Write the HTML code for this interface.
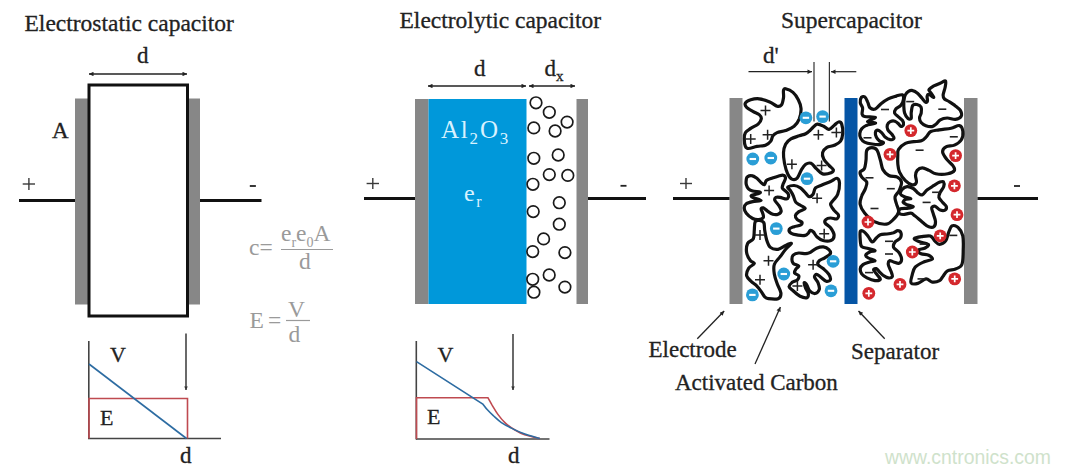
<!DOCTYPE html>
<html><head><meta charset="utf-8">
<style>
html,body{margin:0;padding:0;background:#fff;width:1069px;height:473px;overflow:hidden}
svg{display:block}
text{font-family:"Liberation Serif",serif}
.dk text, text.dk{stroke:#222;stroke-width:0.3}
</style></head><body>
<svg width="1069" height="473" viewBox="0 0 1069 473">
<defs>
<marker id="ah" viewBox="0 0 10 10" refX="10" refY="5" markerWidth="7" markerHeight="4.5" orient="auto-start-reverse" markerUnits="userSpaceOnUse"><path d="M0,0 L10,5 L0,10 z" fill="#222"/></marker>
<marker id="av" viewBox="0 0 10 10" refX="10" refY="5" markerWidth="7" markerHeight="3.6" orient="auto" markerUnits="userSpaceOnUse"><path d="M0,0 L10,5 L0,10 z" fill="#333"/></marker>
</defs>
<rect width="1069" height="473" fill="#fff"/>
<g fill="#222" font-size="23.5" class="dk">
<text x="24.5" y="31.2">Electrostatic capacitor</text>
<text x="399.5" y="27.8">Electrolytic capacitor</text>
<text x="781" y="27.6">Supercapacitor</text>
</g>

<!-- ===== Section 1 ===== -->
<rect x="75" y="98.5" width="13" height="206" fill="#878787"/>
<rect x="189" y="98.5" width="11" height="206" fill="#878787"/>
<rect x="89" y="85" width="98.5" height="231" fill="none" stroke="#111" stroke-width="3"/>
<line x1="19" y1="200.5" x2="75" y2="200.5" stroke="#111" stroke-width="3"/>
<line x1="200" y1="200.5" x2="261.5" y2="200.5" stroke="#111" stroke-width="3"/>
<line x1="89" y1="74" x2="187" y2="74" stroke="#222" stroke-width="1.3" marker-start="url(#ah)" marker-end="url(#ah)"/>
<text x="137" y="63" font-size="23" fill="#222" class="dk">d</text>
<text x="52" y="137.5" font-size="23" fill="#222" class="dk">A</text>
<g stroke="#3a3a3a" stroke-width="1.4"><line x1="22.7" y1="184" x2="35" y2="184"/><line x1="28.9" y1="178" x2="28.9" y2="190"/></g>
<line x1="249.8" y1="186" x2="255.8" y2="186" stroke="#222" stroke-width="1.8"/>

<!-- formulas -->
<g fill="#9a9a9a" font-size="23.5">
<text x="249" y="254.5">c=</text>
<text x="281" y="240.5">e<tspan font-size="14" dy="6">r</tspan><tspan dy="-6">e</tspan><tspan font-size="14" dy="6">0</tspan><tspan dy="-6">A</tspan></text>
<text x="299" y="269">d</text>
<text x="249.5" y="328">E</text>
<text x="268" y="328">=</text>
<text x="288" y="316.5">V</text>
<text x="288.5" y="342">d</text>
</g>
<line x1="281" y1="249.5" x2="333" y2="249.5" stroke="#9a9a9a" stroke-width="1.2"/>
<line x1="286" y1="320.5" x2="310" y2="320.5" stroke="#9a9a9a" stroke-width="1.2"/>

<!-- graph 1 -->
<line x1="88.8" y1="341" x2="88.8" y2="439" stroke="#444" stroke-width="1.6"/>
<line x1="88" y1="438.5" x2="221" y2="438.5" stroke="#444" stroke-width="1.6"/>
<polyline points="89,438.5 89,398.5 187.5,398.5 187.5,438.5" fill="none" stroke="#bf4a50" stroke-width="1.6"/>
<line x1="89" y1="364" x2="186.5" y2="438.5" stroke="#2d6ca2" stroke-width="1.6"/>
<line x1="186" y1="333.5" x2="186" y2="390" stroke="#444" stroke-width="1.6" marker-end="url(#av)"/>
<text x="110" y="361.5" font-size="22" fill="#222" class="dk">V</text>
<text x="100" y="424.5" font-size="22" fill="#222" class="dk">E</text>
<text x="180" y="463" font-size="23" fill="#222" class="dk">d</text>

<!-- ===== Section 2 ===== -->
<rect x="415" y="99" width="13.5" height="205" fill="#878787"/>
<rect x="428.5" y="99" width="98" height="205" fill="#0098da"/>
<rect x="576.5" y="99" width="11.5" height="205" fill="#878787"/>
<line x1="364" y1="198.5" x2="415" y2="198.5" stroke="#111" stroke-width="3"/>
<line x1="588" y1="198.5" x2="646" y2="198.5" stroke="#111" stroke-width="3"/>
<line x1="428" y1="86" x2="526" y2="86" stroke="#222" stroke-width="1.3" marker-start="url(#ah)" marker-end="url(#ah)"/>
<line x1="529" y1="86" x2="575" y2="86" stroke="#222" stroke-width="1.3" marker-start="url(#ah)" marker-end="url(#ah)"/>
<text x="474" y="75.5" font-size="23" fill="#222" class="dk">d</text>
<text x="544.5" y="75.5" font-size="23" fill="#222" class="dk">d<tspan font-size="15" dy="5">x</tspan></text>
<g stroke="#3a3a3a" stroke-width="1.4"><line x1="366.6" y1="183.5" x2="379" y2="183.5"/><line x1="372.8" y1="178" x2="372.8" y2="189"/></g>
<line x1="620.5" y1="185.8" x2="626.5" y2="185.8" stroke="#222" stroke-width="1.8"/>
<g fill="#d8f2ff" font-size="25">
<text x="441" y="138" letter-spacing="1.8">Al<tspan font-size="17" dy="6">2</tspan><tspan dy="-6">O</tspan><tspan font-size="17" dy="6">3</tspan></text>
<text x="464" y="200.5" font-size="24">e<tspan font-size="16" dy="6" dx="1.5">r</tspan></text>
</g>
<g fill="none" stroke="#1a1a1a" stroke-width="1.7" id="circles">
<circle cx="536" cy="102.8" r="5.8"/>
<circle cx="549.3" cy="112.3" r="5.8"/>
<circle cx="567.1" cy="122.1" r="5.8"/>
<circle cx="533.8" cy="127.9" r="5.8"/>
<circle cx="555.1" cy="131" r="5.8"/>
<circle cx="533.8" cy="158.3" r="5.8"/>
<circle cx="558.2" cy="155" r="5.8"/>
<circle cx="549.3" cy="174.6" r="5.8"/>
<circle cx="567.8" cy="175.4" r="5.8"/>
<circle cx="532.9" cy="184.3" r="5.8"/>
<circle cx="559.3" cy="202.7" r="5.8"/>
<circle cx="533.2" cy="211.6" r="5.8"/>
<circle cx="559.3" cy="224.2" r="5.8"/>
<circle cx="543.6" cy="238.9" r="5.8"/>
<circle cx="532.7" cy="251.6" r="5.8"/>
<circle cx="564.9" cy="252.6" r="5.8"/>
<circle cx="549.2" cy="275" r="5.8"/>
<circle cx="532.7" cy="279.3" r="5.8"/>
<circle cx="564.9" cy="287.1" r="5.8"/>
<circle cx="533.9" cy="292.2" r="5.8"/>
</g>

<!-- graph 2 -->
<line x1="416.3" y1="341" x2="416.3" y2="439.5" stroke="#444" stroke-width="1.6"/>
<line x1="416" y1="439" x2="549.5" y2="439" stroke="#444" stroke-width="1.6"/>
<path d="M416.5,439 L416.5,397.8 L488,397.8 C488.7,399.0 490.5,402.3 492.1,405.1 C493.8,407.9 495.8,411.5 497.9,414.4 C500.0,417.3 502.2,420.1 504.9,422.6 C507.6,425.1 510.9,427.5 514.2,429.5 C517.5,431.5 520.4,433.3 524.7,434.8 C529.0,436.3 537.3,437.9 539.8,438.5" fill="none" stroke="#bf4a50" stroke-width="1.6"/>
<path d="M416.5,361.7 L482.8,404 C483.6,405.0 485.6,407.9 487.4,409.8 C489.1,411.7 491.0,413.5 493.3,415.6 C495.6,417.7 498.3,420.5 501.4,422.6 C504.5,424.7 508.2,426.6 511.9,428.4 C515.6,430.2 518.9,431.9 523.5,433.6 C528.1,435.3 537.1,437.7 539.8,438.5" fill="none" stroke="#2d6ca2" stroke-width="1.6"/>
<line x1="513" y1="334" x2="513" y2="390" stroke="#444" stroke-width="1.6" marker-end="url(#av)"/>
<text x="437.5" y="362" font-size="22" fill="#222" class="dk">V</text>
<text x="427" y="423.5" font-size="22" fill="#222" class="dk">E</text>
<text x="508" y="462.5" font-size="23" fill="#222" class="dk">d</text>

<!-- ===== Section 3 ===== -->
<rect x="729.5" y="98" width="13" height="206" fill="#878787"/>
<rect x="844.5" y="98" width="13" height="206" fill="#0555a5"/>
<rect x="964" y="98" width="13.5" height="206" fill="#878787"/>
<line x1="673" y1="198.5" x2="729.5" y2="198.5" stroke="#111" stroke-width="3"/>
<line x1="977.5" y1="198.5" x2="1038" y2="198.5" stroke="#111" stroke-width="3"/>
<g stroke="#3a3a3a" stroke-width="1.4"><line x1="680" y1="183.5" x2="692" y2="183.5"/><line x1="686" y1="178" x2="686" y2="189"/></g>
<line x1="1014" y1="186" x2="1020" y2="186" stroke="#222" stroke-width="1.8"/>
<text x="763" y="63.2" font-size="23" fill="#222" class="dk">d'</text>
<line x1="748.5" y1="71.7" x2="812" y2="71.7" stroke="#222" stroke-width="1.2" marker-end="url(#ah)"/>
<line x1="856.3" y1="71.7" x2="831" y2="71.7" stroke="#222" stroke-width="1.2" marker-end="url(#ah)"/>
<line x1="814" y1="62" x2="814" y2="121.5" stroke="#333" stroke-width="1.2"/>
<line x1="829.4" y1="62" x2="829.4" y2="121.5" stroke="#333" stroke-width="1.2"/>

<g fill="none" stroke="#111" stroke-width="3.2" stroke-linejoin="round">
<path d="M785.6,88.8 C787.2,89.2 790.9,90.6 793.0,92.4 C795.1,94.2 797.0,97.2 798.3,99.8 C799.6,102.4 800.8,105.1 801.0,108.3 C801.2,111.5 800.4,115.8 799.3,118.8 C798.1,121.8 796.4,124.3 794.1,126.3 C791.8,128.2 788.4,129.4 785.6,130.5 C782.8,131.6 779.2,131.7 777.1,132.6 C775.0,133.5 774.0,134.4 772.9,135.8 C771.8,137.2 772.0,139.5 770.8,141.1 C769.6,142.7 767.8,144.4 765.5,145.3 C763.2,146.2 759.8,145.8 757.0,146.3 C754.2,146.8 750.5,148.5 748.6,148.5 C746.7,148.5 746.1,147.9 745.4,146.3 C744.7,144.7 744.3,141.2 744.3,138.9 C744.3,136.6 744.3,134.3 745.4,132.6 C746.5,130.8 748.6,129.8 750.7,128.4 C752.8,127.0 756.3,125.7 758.1,124.1 C759.9,122.5 761.1,120.4 761.3,118.8 C761.5,117.2 760.6,115.8 759.2,114.6 C757.8,113.4 754.9,112.6 752.8,111.4 C750.7,110.2 747.7,108.6 746.5,107.2 C745.3,105.8 744.7,104.2 745.4,103.0 C746.1,101.8 748.4,100.5 750.7,99.8 C753.0,99.1 756.0,98.4 759.2,98.8 C762.4,99.2 766.7,100.7 769.7,101.9 C772.7,103.1 775.2,105.7 777.1,106.2 C779.0,106.7 780.3,106.5 781.4,105.1 C782.5,103.7 783.1,100.2 783.5,97.7 C783.9,95.2 783.1,91.8 783.5,90.3 C783.9,88.8 784.0,88.4 785.6,88.8Z"/>
<path d="M813.1,127.3 C814.3,126.2 815.5,124.3 817.3,124.1 C819.1,123.9 821.8,125.4 823.7,126.3 C825.7,127.2 827.2,129.6 829.0,129.4 C830.8,129.2 832.7,126.4 834.3,125.2 C835.9,124.0 837.3,122.2 838.5,122.0 C839.7,121.8 841.0,122.1 841.7,124.1 C842.4,126.0 842.9,130.9 842.7,133.7 C842.5,136.5 842.0,139.2 840.6,141.1 C839.2,143.0 836.6,144.2 834.3,145.3 C832.0,146.4 828.8,146.2 826.9,147.4 C825.0,148.6 823.1,150.8 822.6,152.7 C822.1,154.6 822.6,156.9 823.7,159.0 C824.8,161.1 827.4,163.6 829.0,165.4 C830.6,167.2 832.9,168.4 833.2,169.6 C833.6,170.8 832.9,172.1 831.1,172.8 C829.3,173.5 825.1,174.6 822.6,173.9 C820.1,173.2 818.2,170.4 816.3,168.6 C814.4,166.8 812.8,164.0 811.0,163.3 C809.2,162.6 807.3,163.2 805.7,164.3 C804.1,165.4 802.9,167.3 801.5,169.6 C800.1,171.9 798.8,176.5 797.2,178.1 C795.6,179.7 793.5,179.8 791.9,179.1 C790.3,178.4 788.9,176.5 787.7,173.9 C786.5,171.3 785.2,166.8 784.5,163.3 C783.8,159.8 783.3,155.9 783.5,152.7 C783.7,149.5 784.4,146.5 785.6,144.2 C786.8,141.9 788.6,140.3 790.9,138.9 C793.2,137.5 796.8,136.7 799.3,135.8 C801.8,134.9 803.9,134.6 805.7,133.7 C807.5,132.8 808.7,131.6 809.9,130.5 C811.1,129.4 811.9,128.4 813.1,127.3Z"/>
<path d="M747.4,176.8 C748.3,176.2 750.0,175.4 751.6,175.7 C753.2,175.9 755.3,177.2 756.9,178.3 C758.5,179.5 759.9,181.5 761.1,182.6 C762.3,183.7 763.4,185.0 764.3,184.7 C765.2,184.3 765.2,181.6 766.4,180.5 C767.6,179.4 769.8,179.0 771.7,178.3 C773.7,177.6 776.2,176.7 778.1,176.2 C780.0,175.7 782.1,174.8 783.3,175.2 C784.5,175.5 785.5,176.9 785.5,178.3 C785.5,179.7 783.8,182.0 783.3,183.6 C782.8,185.2 781.9,186.7 782.3,187.9 C782.7,189.1 784.5,190.1 785.5,191.0 C786.5,191.9 787.5,192.5 788.0,193.5 C788.5,194.5 788.8,196.1 788.5,197.0 C788.2,197.9 787.9,198.9 786.5,199.0 C785.1,199.1 782.0,197.7 780.2,197.4 C778.4,197.1 776.8,196.9 775.9,197.4 C775.0,197.9 774.4,199.1 774.9,200.5 C775.4,201.9 778.0,204.0 779.1,205.8 C780.2,207.6 781.4,209.7 781.2,211.1 C781.0,212.5 779.5,213.8 778.1,214.3 C776.7,214.8 774.6,214.8 772.8,214.3 C771.0,213.8 769.1,212.2 767.5,211.1 C765.9,210.0 764.4,208.2 763.3,207.9 C762.2,207.6 761.2,208.1 761.1,209.0 C761.0,209.9 762.3,211.8 762.7,213.2 C763.1,214.6 763.9,216.4 763.3,217.5 C762.7,218.6 760.8,219.4 759.0,219.6 C757.2,219.8 754.8,219.6 752.7,218.5 C750.6,217.4 747.7,215.0 746.3,213.2 C744.9,211.4 744.2,209.5 744.2,207.9 C744.2,206.3 744.9,204.8 746.3,203.7 C747.7,202.6 750.2,202.1 752.7,201.6 C755.2,201.1 761.1,201.2 761.1,200.5 C761.1,199.8 754.3,198.3 752.7,197.4 C751.1,196.5 750.7,195.9 751.6,195.3 C752.5,194.7 756.6,194.2 758.0,193.7 C759.4,193.2 761.0,192.5 760.1,192.1 C759.2,191.7 754.6,191.5 752.7,191.0 C750.8,190.5 749.6,190.0 748.5,188.9 C747.4,187.8 746.7,186.3 746.3,184.7 C745.9,183.1 746.1,180.7 746.3,179.4 C746.5,178.1 746.5,177.4 747.4,176.8Z"/>
<path d="M787.8,187.1 C788.5,186.3 792.0,185.4 794.1,185.5 C796.2,185.6 798.5,186.7 800.4,187.9 C802.2,189.1 803.7,191.2 805.2,192.6 C806.7,194.0 807.9,196.3 809.2,196.6 C810.5,196.9 812.1,195.6 813.1,194.2 C814.1,192.8 814.0,189.4 815.5,187.9 C817.0,186.4 819.4,186.1 821.9,185.0 C824.4,183.9 828.1,182.6 830.6,181.5 C833.1,180.4 835.4,178.0 836.9,178.3 C838.4,178.6 839.4,180.8 839.5,183.4 C839.6,186.1 838.7,191.4 837.7,194.2 C836.7,197.0 834.6,198.5 833.4,200.2 C832.2,201.9 830.5,202.8 830.6,204.5 C830.7,206.2 832.8,208.6 834.1,210.4 C835.4,212.2 838.1,213.7 838.5,215.1 C838.9,216.5 837.9,218.4 836.6,218.9 C835.3,219.4 832.4,217.9 830.6,218.0 C828.8,218.1 826.7,218.8 825.8,219.6 C824.9,220.4 824.4,221.7 825.2,223.1 C826.0,224.5 829.1,225.8 830.6,227.8 C832.1,229.9 834.1,233.3 834.1,235.4 C834.1,237.5 832.8,239.7 830.9,240.5 C829.0,241.3 825.3,241.1 823.0,240.5 C820.7,239.9 818.7,238.4 817.1,237.0 C815.5,235.6 814.5,233.1 813.4,232.0 C812.3,230.9 811.1,230.2 810.3,230.4 C809.5,230.6 809.2,232.3 808.4,233.1 C807.5,233.9 806.9,235.1 805.2,235.4 C803.5,235.7 800.5,235.5 798.1,235.1 C795.7,234.7 792.4,234.1 790.9,233.1 C789.4,232.1 788.8,230.2 789.3,229.1 C789.8,228.0 792.2,227.4 794.1,226.7 C796.0,226.0 799.1,225.8 800.4,225.1 C801.7,224.4 802.5,223.3 802.0,222.4 C801.5,221.5 798.4,220.7 797.3,219.6 C796.2,218.5 795.1,216.9 795.4,215.6 C795.7,214.3 797.3,212.8 798.9,211.6 C800.5,210.4 805.0,209.6 805.2,208.5 C805.5,207.4 802.0,206.4 800.4,205.3 C798.8,204.2 796.9,203.7 795.7,202.1 C794.5,200.5 794.2,197.8 793.3,195.8 C792.4,193.8 791.0,191.6 790.1,190.2 C789.2,188.8 787.1,187.9 787.8,187.1Z"/>
<path d="M755.2,221.7 C754.3,223.3 754.6,227.3 754.3,230.2 C754.0,233.0 754.4,236.6 753.3,238.8 C752.2,241.0 748.7,241.1 747.6,243.5 C746.5,245.9 746.2,250.2 746.7,253.1 C747.2,256.0 749.2,259.0 750.5,260.7 C751.8,262.4 754.6,262.2 754.3,263.5 C754.0,264.8 749.9,266.2 748.6,268.3 C747.3,270.4 746.2,273.7 746.7,275.9 C747.2,278.1 749.8,280.0 751.4,281.6 C753.0,283.2 754.6,283.8 756.2,285.4 C757.8,287.0 759.5,289.2 760.9,291.1 C762.3,293.0 763.4,295.5 764.7,296.8 C766.0,298.1 766.3,298.4 768.5,298.7 C770.7,299.0 776.0,299.6 778.1,298.7 C780.2,297.8 781.1,295.5 780.9,293.0 C780.7,290.5 778.2,286.7 777.1,283.5 C776.0,280.3 774.8,277.2 774.3,274.0 C773.8,270.8 773.3,267.4 774.3,264.5 C775.2,261.6 778.1,259.4 780.0,256.9 C781.9,254.4 783.8,251.5 785.7,249.3 C787.6,247.1 791.4,244.2 791.4,243.5 C791.4,242.8 787.9,244.4 785.7,245.4 C783.5,246.4 780.7,249.0 778.1,249.3 C775.5,249.6 772.3,249.0 770.4,247.4 C768.5,245.8 767.5,242.6 766.6,239.7 C765.7,236.8 765.2,233.0 764.7,230.2 C764.2,227.3 764.7,224.2 763.8,222.6 C762.9,221.0 760.9,220.7 759.5,220.5 C758.1,220.3 756.1,220.1 755.2,221.7Z"/>
<path d="M793.2,255.1 C794.3,254.1 796.6,253.2 798.7,253.0 C800.8,252.8 803.7,253.8 805.6,253.7 C807.5,253.6 808.6,253.3 810.4,252.4 C812.2,251.5 814.4,249.1 816.6,248.2 C818.8,247.3 821.4,246.7 823.4,246.9 C825.4,247.1 827.8,248.5 828.9,249.6 C830.0,250.7 831.0,252.3 830.3,253.7 C829.6,255.1 826.6,256.6 824.8,257.8 C823.0,259.0 820.4,259.5 819.3,260.6 C818.2,261.8 817.3,263.3 818.0,264.7 C818.7,266.1 821.6,267.2 823.4,268.8 C825.2,270.4 827.8,272.5 828.9,274.3 C830.0,276.1 830.8,278.7 830.3,279.8 C829.8,280.9 827.8,281.6 826.2,281.2 C824.6,280.8 822.3,278.2 820.7,277.1 C819.1,276.0 817.6,274.3 816.6,274.3 C815.6,274.3 814.3,275.7 814.5,277.1 C814.7,278.5 817.2,280.6 818.0,282.6 C818.8,284.7 819.8,287.6 819.3,289.4 C818.8,291.2 816.8,293.3 815.2,293.5 C813.6,293.7 811.1,292.2 809.7,290.8 C808.3,289.4 807.9,286.7 807.0,285.3 C806.1,283.9 804.4,282.1 804.2,282.6 C804.0,283.1 804.9,286.3 805.6,288.1 C806.3,289.9 808.1,291.9 808.3,293.5 C808.5,295.1 808.4,297.2 807.0,297.7 C805.6,298.2 802.4,297.4 800.1,296.3 C797.8,295.2 795.0,292.4 793.2,290.8 C791.4,289.2 789.3,288.1 789.1,286.7 C788.9,285.3 790.5,283.8 791.9,282.6 C793.3,281.5 796.3,281.0 797.4,279.8 C798.5,278.6 799.2,276.8 798.7,275.7 C798.2,274.6 795.1,274.1 794.6,273.0 C794.1,271.9 795.3,269.9 796.0,268.8 C796.7,267.7 799.2,267.0 798.7,266.1 C798.2,265.2 794.3,264.5 793.2,263.3 C792.1,262.1 791.9,260.6 791.9,259.2 C791.9,257.8 792.1,256.1 793.2,255.1Z"/>
<path d="M861.3,97.4 C862.1,96.5 863.8,96.2 864.9,97.0 C866.0,97.8 866.9,100.3 867.7,102.1 C868.6,103.9 868.7,106.6 870.0,107.8 C871.3,109.0 873.5,109.7 875.3,109.0 C877.1,108.3 878.9,105.4 881.0,103.7 C883.1,102.0 885.7,100.2 888.2,98.9 C890.7,97.6 893.9,96.8 896.2,96.1 C898.5,95.4 901.0,94.3 902.2,94.8 C903.4,95.3 903.7,97.4 903.5,99.1 C903.3,100.8 902.2,103.5 900.9,105.2 C899.6,106.9 896.8,107.7 895.8,109.0 C894.8,110.3 894.2,111.8 894.6,113.1 C895.0,114.4 897.1,115.7 898.4,116.9 C899.7,118.1 901.6,119.2 902.5,120.5 C903.4,121.8 903.8,123.5 903.5,124.5 C903.2,125.5 901.8,126.6 901.0,126.5 C900.2,126.4 899.7,124.9 898.7,124.0 C897.7,123.1 896.3,121.6 894.9,121.2 C893.5,120.8 891.5,121.0 890.2,121.6 C888.9,122.2 887.7,123.7 887.3,125.0 C886.9,126.3 887.0,128.1 887.8,129.7 C888.6,131.3 891.1,133.1 892.1,134.5 C893.1,135.9 894.3,137.4 894.0,138.3 C893.7,139.2 891.6,139.9 890.2,139.7 C888.8,139.5 886.8,138.5 885.4,137.3 C884.0,136.1 882.9,133.8 881.6,132.6 C880.3,131.4 878.8,130.2 877.8,130.2 C876.8,130.2 875.6,131.4 875.4,132.6 C875.2,133.8 875.7,135.9 876.4,137.3 C877.1,138.7 878.5,140.2 879.7,141.1 C880.9,142.0 883.3,141.9 883.5,142.5 C883.7,143.1 882.6,144.2 880.7,144.4 C878.8,144.7 874.8,144.4 872.1,144.0 C869.4,143.6 866.4,143.0 864.5,142.1 C862.6,141.2 861.5,139.7 860.7,138.3 C859.9,136.9 859.6,135.1 859.8,133.5 C860.0,131.9 860.6,130.2 861.7,128.8 C862.8,127.5 864.1,126.4 866.4,125.4 C868.7,124.5 875.4,123.8 875.6,123.1 C875.8,122.4 867.5,122.5 867.5,121.5 C867.5,120.5 875.9,118.2 875.4,117.4 C874.9,116.6 866.7,117.1 864.5,116.5 C862.3,115.9 862.4,115.4 862.1,114.0 C861.8,112.6 862.9,109.9 862.6,108.0 C862.3,106.1 860.5,104.5 860.3,102.7 C860.1,100.9 860.5,98.4 861.3,97.4Z"/>
<path d="M905.1,95.2 C905.9,93.8 907.2,92.2 908.5,91.4 C909.8,90.6 911.2,90.2 912.7,90.6 C914.2,90.9 916.2,92.2 917.8,93.5 C919.3,94.8 920.7,96.7 922.0,98.2 C923.3,99.7 924.9,102.0 925.8,102.4 C926.7,102.8 927.3,101.7 927.5,100.7 C927.7,99.7 926.9,97.5 927.1,96.5 C927.3,95.5 927.7,94.3 928.8,94.4 C929.9,94.5 933.7,97.9 933.8,97.3 C933.9,96.7 930.3,92.3 929.5,91.0 C928.7,89.7 928.5,90.1 929.2,89.3 C929.9,88.5 931.9,87.0 933.8,85.9 C935.7,84.9 938.6,83.8 940.6,83.0 C942.6,82.2 944.7,80.3 945.5,81.0 C946.3,81.7 945.6,84.6 945.2,87.0 C944.8,89.4 943.2,93.2 943.1,95.2 C943.0,97.2 943.5,98.0 944.5,99.0 C945.5,100.0 947.3,100.4 949.0,101.5 C950.7,102.6 952.9,104.0 954.8,105.4 C956.7,106.9 959.1,108.4 960.2,110.2 C961.3,112.0 962.0,114.8 961.2,116.3 C960.4,117.8 957.7,119.1 955.4,119.4 C953.1,119.7 949.7,117.9 947.2,118.0 C944.7,118.1 942.1,118.8 940.3,119.8 C938.5,120.8 937.6,122.8 936.2,123.9 C934.8,125.0 933.8,126.3 932.1,126.6 C930.4,126.9 927.7,126.4 925.9,125.7 C924.1,125.0 922.2,123.8 921.1,122.5 C920.0,121.2 919.5,119.6 919.5,118.0 C919.5,116.4 920.9,114.8 921.2,113.0 C921.5,111.2 921.8,108.5 921.1,107.1 C920.4,105.7 918.3,104.8 916.9,104.5 C915.5,104.2 913.7,104.0 912.7,105.4 C911.8,106.8 911.5,110.7 911.2,112.9 C911.0,115.1 911.7,117.5 911.2,118.4 C910.7,119.3 909.1,119.3 908.0,118.4 C906.9,117.5 905.3,115.0 904.6,112.9 C903.9,110.8 903.9,108.2 903.8,106.0 C903.7,103.8 903.8,101.8 904.0,100.0 C904.2,98.2 904.4,96.6 905.1,95.2Z"/>
<path d="M898.6,149.3 C899.9,147.3 902.9,144.7 905.4,143.4 C907.9,142.1 911.1,142.1 913.8,141.7 C916.5,141.3 919.3,141.7 921.4,140.8 C923.5,140.0 924.9,138.2 926.5,136.6 C928.1,135.0 928.7,132.6 930.8,131.5 C932.9,130.4 935.8,130.4 939.2,129.8 C942.6,129.2 947.7,128.9 951.1,128.2 C954.5,127.5 957.5,125.0 959.5,125.6 C961.5,126.1 962.6,129.1 962.9,131.5 C963.2,133.9 962.6,137.7 961.2,140.0 C959.8,142.3 956.9,144.0 954.4,145.1 C951.9,146.2 948.0,145.7 946.0,146.8 C944.0,147.9 942.5,149.7 942.6,151.8 C942.7,153.9 945.1,157.1 946.8,159.4 C948.5,161.7 951.4,163.6 952.7,165.4 C954.0,167.2 955.2,169.0 954.4,170.4 C953.6,171.8 950.8,173.2 947.7,173.8 C944.6,174.4 938.9,174.4 935.8,173.8 C932.7,173.2 931.4,171.4 929.1,170.4 C926.9,169.4 924.3,167.9 922.3,167.9 C920.3,167.9 918.3,169.1 917.2,170.4 C916.1,171.7 915.6,173.5 915.5,175.5 C915.4,177.5 917.0,180.8 916.4,182.3 C915.8,183.9 913.9,185.1 912.1,184.8 C910.3,184.5 907.5,182.7 905.4,180.6 C903.3,178.5 900.8,174.9 899.5,172.1 C898.2,169.3 898.1,166.5 897.8,163.7 C897.5,160.9 897.7,157.6 897.8,155.2 C897.9,152.8 897.3,151.3 898.6,149.3Z"/>
<path d="M866.8,150.2 C867.8,148.1 870.2,147.6 871.9,147.6 C873.6,147.6 875.6,148.1 877.0,150.2 C878.4,152.3 879.4,157.1 880.4,160.3 C881.4,163.5 881.5,167.1 882.9,169.6 C884.3,172.1 886.4,174.2 888.8,175.5 C891.2,176.8 895.2,176.1 897.3,177.2 C899.4,178.3 901.2,180.0 901.5,182.3 C901.8,184.6 900.1,188.4 899.0,190.8 C897.9,193.2 895.4,194.8 895.0,197.0 C894.6,199.2 895.9,201.5 896.5,204.0 C897.1,206.5 899.1,209.4 898.6,211.9 C898.1,214.4 895.7,217.2 893.7,219.2 C891.7,221.2 889.7,223.7 886.5,224.1 C883.3,224.5 877.9,223.4 874.3,221.6 C870.6,219.8 867.0,215.9 864.6,213.0 C862.2,210.1 860.6,207.2 860.1,204.3 C859.6,201.4 860.9,198.3 861.8,195.8 C862.6,193.3 864.4,191.3 865.2,189.1 C866.0,186.8 867.4,184.3 866.8,182.3 C866.2,180.3 862.9,178.9 861.8,177.2 C860.7,175.5 859.7,173.5 860.1,172.1 C860.5,170.7 863.3,170.8 864.3,168.8 C865.3,166.8 865.6,163.4 866.0,160.3 C866.4,157.2 865.8,152.3 866.8,150.2Z"/>
<path d="M901.9,189.8 C903.0,188.5 905.1,186.8 907.0,186.6 C908.9,186.4 911.4,187.4 913.3,188.5 C915.2,189.6 916.9,192.2 918.4,193.3 C919.9,194.4 920.9,195.4 922.4,194.8 C923.9,194.2 925.4,191.3 927.3,189.8 C929.2,188.3 931.5,187.0 933.6,185.7 C935.7,184.4 938.2,182.7 939.9,182.1 C941.5,181.5 942.9,181.2 943.5,181.9 C944.1,182.7 944.2,184.9 943.7,186.6 C943.2,188.3 941.0,190.5 940.2,192.3 C939.4,194.1 938.5,195.7 938.9,197.4 C939.3,199.1 941.5,200.9 942.7,202.4 C943.9,203.9 945.9,205.2 946.3,206.5 C946.7,207.8 946.0,209.5 945.0,210.1 C944.0,210.7 941.9,210.7 940.2,210.1 C938.6,209.5 936.5,206.7 935.1,206.3 C933.7,205.9 932.0,206.5 931.7,207.8 C931.4,209.1 932.7,211.6 933.3,213.9 C933.9,216.2 935.4,219.3 935.5,221.5 C935.6,223.7 934.9,225.9 933.8,226.8 C932.7,227.7 930.5,227.4 928.8,226.8 C927.1,226.2 925.0,224.3 923.4,223.0 C921.8,221.7 920.4,220.4 919.0,219.2 C917.6,218.0 916.2,216.8 914.8,215.8 C913.4,214.8 912.8,213.4 910.8,213.2 C908.8,213.0 905.1,214.6 903.1,214.5 C901.1,214.4 899.1,213.5 898.7,212.6 C898.3,211.7 899.0,209.5 900.6,208.8 C902.2,208.1 906.1,208.6 908.2,208.2 C910.3,207.8 913.5,207.1 913.3,206.5 C913.1,205.9 908.7,205.4 907.0,204.7 C905.3,204.0 903.3,203.3 903.1,202.4 C902.9,201.5 904.4,199.9 905.7,199.3 C907.0,198.7 911.0,199.0 910.8,198.6 C910.6,198.2 906.1,197.4 904.4,196.7 C902.7,196.0 901.0,195.3 900.6,194.2 C900.2,193.0 900.8,191.1 901.9,189.8Z"/>
<path d="M860.3,231.3 C861.0,229.9 863.0,231.1 864.3,232.0 C865.6,232.9 867.0,234.9 868.3,236.6 C869.6,238.3 871.0,241.8 872.3,242.0 C873.6,242.2 875.0,239.2 876.3,238.0 C877.6,236.8 878.5,235.4 880.3,234.7 C882.1,234.0 884.8,234.3 887.0,234.0 C889.2,233.7 891.8,233.2 893.6,232.7 C895.4,232.1 896.4,230.7 897.6,230.7 C898.8,230.7 900.5,231.5 900.9,232.7 C901.3,233.9 901.3,236.4 900.3,238.0 C899.3,239.6 896.1,240.4 895.0,242.0 C893.9,243.6 892.9,245.5 893.6,247.3 C894.3,249.1 897.7,250.6 899.0,252.6 C900.3,254.6 901.6,257.5 901.6,259.3 C901.6,261.1 900.3,262.9 899.0,263.3 C897.7,263.8 895.2,262.4 893.6,262.0 C892.0,261.6 890.5,260.2 889.6,260.6 C888.7,261.0 888.1,262.8 888.3,264.6 C888.5,266.4 890.3,269.3 891.0,271.3 C891.7,273.3 892.8,275.5 892.3,276.6 C891.8,277.7 889.8,278.1 888.3,277.9 C886.8,277.7 884.5,276.4 883.0,275.3 C881.5,274.2 880.1,272.4 879.0,271.3 C877.9,270.2 877.2,268.8 876.3,268.6 C875.4,268.4 873.4,268.8 873.6,269.9 C873.8,271.0 876.5,273.7 877.6,275.3 C878.7,276.9 880.7,278.4 880.3,279.3 C879.9,280.2 877.2,280.8 875.0,280.6 C872.8,280.4 869.2,279.0 867.0,277.9 C864.8,276.8 862.8,275.4 861.7,273.9 C860.6,272.3 860.1,270.2 860.3,268.6 C860.5,267.1 861.5,265.7 863.0,264.6 C864.5,263.5 867.6,262.7 869.6,262.0 C871.6,261.3 875.2,261.3 875.0,260.6 C874.8,259.9 869.8,258.9 868.3,258.0 C866.8,257.1 865.5,256.3 865.7,255.3 C865.9,254.3 868.1,252.8 869.6,252.0 C871.1,251.2 875.2,251.2 875.0,250.6 C874.8,250.0 870.5,249.3 868.3,248.6 C866.1,247.9 863.0,247.9 861.7,246.6 C860.4,245.3 860.5,243.1 860.3,240.6 C860.1,238.1 859.6,232.7 860.3,231.3Z"/>
<path d="M914.3,238.5 C914.8,237.7 918.8,237.1 921.5,236.7 C924.2,236.3 928.2,235.3 930.5,236.1 C932.8,236.8 933.5,239.8 935.0,241.2 C936.5,242.6 937.7,244.5 939.5,244.4 C941.3,244.3 944.2,242.7 945.7,240.8 C947.2,238.9 947.4,235.6 948.4,233.1 C949.4,230.6 950.4,226.8 952.0,225.9 C953.6,225.0 956.5,226.0 958.3,227.7 C960.1,229.3 962.0,232.1 962.8,235.8 C963.6,239.6 963.4,245.4 963.2,250.2 C963.1,255.0 963.2,261.4 961.9,264.5 C960.6,267.6 958.0,267.9 955.6,269.0 C953.2,270.1 949.6,269.6 947.5,270.8 C945.4,272.0 944.4,274.6 943.1,276.2 C941.8,277.8 941.3,279.7 939.5,280.7 C937.7,281.7 934.5,282.4 932.3,282.1 C930.0,281.8 928.4,278.7 926.0,278.9 C923.6,279.1 920.4,282.7 917.9,283.4 C915.4,284.1 912.1,284.2 911.1,282.9 C910.1,281.5 911.4,277.9 912.1,275.3 C912.8,272.7 913.2,269.4 915.2,267.2 C917.2,264.9 921.4,263.1 924.2,261.8 C927.1,260.5 931.5,260.2 932.3,259.1 C933.0,258.0 930.6,256.1 928.7,255.2 C926.8,254.3 922.9,254.6 921.1,253.8 C919.3,253.0 917.2,251.2 917.9,250.2 C918.6,249.2 923.4,249.0 925.1,248.0 C926.8,247.0 929.3,245.5 928.3,244.4 C927.2,243.3 921.1,242.5 918.8,241.5 C916.5,240.5 913.8,239.3 914.3,238.5Z"/>
</g>
<g stroke="#222" stroke-width="1.5">
<path d="M760.5,110.4H770.5M765.5,105.4V115.4"/>
<path d="M762.6,134.7H772.6M767.6,129.7V139.7"/>
<path d="M745.7,139.0H755.7M750.7,134.0V144.0"/>
<path d="M813.4,134.7H823.4M818.4,129.7V139.7"/>
<path d="M831.4,132.6H841.4M836.4,127.6V137.6"/>
<path d="M786.9,164.3H796.9M791.9,159.3V169.3"/>
<path d="M816.6,165.4H826.6M821.6,160.4V170.4"/>
<path d="M764.1,190.5H774.1M769.1,185.5V195.5"/>
<path d="M812.1,198.2H822.1M817.1,193.2V203.2"/>
<path d="M755.0,235.0H765.0M760.0,230.0V240.0"/>
<path d="M819.2,233.8H829.2M824.2,228.8V238.8"/>
<path d="M763.5,260.7H773.5M768.5,255.7V265.7"/>
<path d="M755.0,279.7H765.0M760.0,274.7V284.7"/>
<path d="M808.1,264.7H818.1M813.1,259.7V269.7"/>
<path d="M792.4,286.0H802.4M797.4,281.0V291.0"/>
</g>
<g stroke="#222" stroke-width="1.6">
<path d="M881.0,109.5H889.0"/>
<path d="M906.2,101.6H914.2"/>
<path d="M938.3,109.2H946.3"/>
<path d="M949.8,136.8H957.8"/>
<path d="M863.5,137.8H871.5"/>
<path d="M915.6,150.2H923.6"/>
<path d="M865.5,177.8H873.5"/>
<path d="M886.8,188.7H894.8"/>
<path d="M932.1,192.3H940.1"/>
<path d="M870.5,208.5H878.5"/>
<path d="M922.6,202.4H930.6"/>
<path d="M949.3,235.4H957.3"/>
<path d="M919.6,244.1H927.6"/>
<path d="M885.0,241.3H893.0"/>
<path d="M885.0,254.0H893.0"/>
<path d="M865.0,272.6H873.0"/>
<path d="M917.5,278.9H925.5"/>
</g>
<circle cx="805.9" cy="117.8" r="6.4" fill="#2a9ed6"/><path d="M802.7,117.8H809.1" stroke="#fff" stroke-width="2.1"/>
<circle cx="822.6" cy="116.6" r="6.4" fill="#2a9ed6"/><path d="M819.4,116.6H825.8" stroke="#fff" stroke-width="2.1"/>
<circle cx="752.8" cy="159" r="6.4" fill="#2a9ed6"/><path d="M749.6,159.0H756.0" stroke="#fff" stroke-width="2.1"/>
<circle cx="770.8" cy="158" r="6.4" fill="#2a9ed6"/><path d="M767.6,158.0H774.0" stroke="#fff" stroke-width="2.1"/>
<circle cx="807" cy="178.7" r="6.4" fill="#2a9ed6"/><path d="M803.8,178.7H810.2" stroke="#fff" stroke-width="2.1"/>
<circle cx="776.3" cy="228.6" r="6.4" fill="#2a9ed6"/><path d="M773.1,228.6H779.5" stroke="#fff" stroke-width="2.1"/>
<circle cx="783.8" cy="274" r="6.4" fill="#2a9ed6"/><path d="M780.6,274.0H787.0" stroke="#fff" stroke-width="2.1"/>
<circle cx="752.4" cy="294.9" r="6.4" fill="#2a9ed6"/><path d="M749.2,294.9H755.6" stroke="#fff" stroke-width="2.1"/>
<circle cx="833.1" cy="261.3" r="6.4" fill="#2a9ed6"/><path d="M829.9,261.3H836.3" stroke="#fff" stroke-width="2.1"/>
<circle cx="831" cy="290.8" r="6.4" fill="#2a9ed6"/><path d="M827.8,290.8H834.2" stroke="#fff" stroke-width="2.1"/>
<circle cx="910.8" cy="130.6" r="6.4" fill="#d4282d"/><path d="M907.4,130.6H914.2M910.8,127.2V134.0" stroke="#fff" stroke-width="1.7"/>
<circle cx="890" cy="154.4" r="6.4" fill="#d4282d"/><path d="M886.6,154.4H893.4M890.0,151.0V157.8" stroke="#fff" stroke-width="1.7"/>
<circle cx="955.6" cy="155.6" r="6.4" fill="#d4282d"/><path d="M952.2,155.6H959.0M955.6,152.2V159.0" stroke="#fff" stroke-width="1.7"/>
<circle cx="954.4" cy="185.8" r="6.4" fill="#d4282d"/><path d="M951.0,185.8H957.8M954.4,182.4V189.2" stroke="#fff" stroke-width="1.7"/>
<circle cx="957" cy="214.7" r="6.4" fill="#d4282d"/><path d="M953.6,214.7H960.4M957.0,211.3V218.1" stroke="#fff" stroke-width="1.7"/>
<circle cx="868" cy="222" r="6.4" fill="#d4282d"/><path d="M864.6,222.0H871.4M868.0,218.6V225.4" stroke="#fff" stroke-width="1.7"/>
<circle cx="940.2" cy="235.8" r="6.4" fill="#d4282d"/><path d="M936.8,235.8H943.6M940.2,232.4V239.2" stroke="#fff" stroke-width="1.7"/>
<circle cx="912.3" cy="252" r="6.4" fill="#d4282d"/><path d="M908.9,252.0H915.7M912.3,248.6V255.4" stroke="#fff" stroke-width="1.7"/>
<circle cx="900" cy="284.4" r="6.4" fill="#d4282d"/><path d="M896.6,284.4H903.4M900.0,281.0V287.8" stroke="#fff" stroke-width="1.7"/>
<circle cx="868.8" cy="293.3" r="6.4" fill="#d4282d"/><path d="M865.4,293.3H872.2M868.8,289.9V296.7" stroke="#fff" stroke-width="1.7"/>
<circle cx="954.7" cy="278.9" r="6.4" fill="#d4282d"/><path d="M951.3,278.9H958.1M954.7,275.5V282.3" stroke="#fff" stroke-width="1.7"/>
<g fill="#222" font-size="23" class="dk">
<text x="648.5" y="356.5">Electrode</text>
<text x="675" y="389.5">Activated Carbon</text>
<text x="851" y="358.5">Separator</text>
</g>
<line x1="697.3" y1="338.8" x2="724.2" y2="311" stroke="#222" stroke-width="1.3" marker-end="url(#ah)"/>
<line x1="755" y1="364" x2="780.4" y2="307" stroke="#222" stroke-width="1.3" marker-end="url(#ah)"/>
<line x1="884.7" y1="338.8" x2="858.5" y2="311" stroke="#222" stroke-width="1.3" marker-end="url(#ah)"/>

<text x="885" y="463.8" font-size="19.4" fill="#cfe2cb" style="font-family:'Liberation Sans',sans-serif">www.cntronics.com</text>
</svg>
</body></html>
